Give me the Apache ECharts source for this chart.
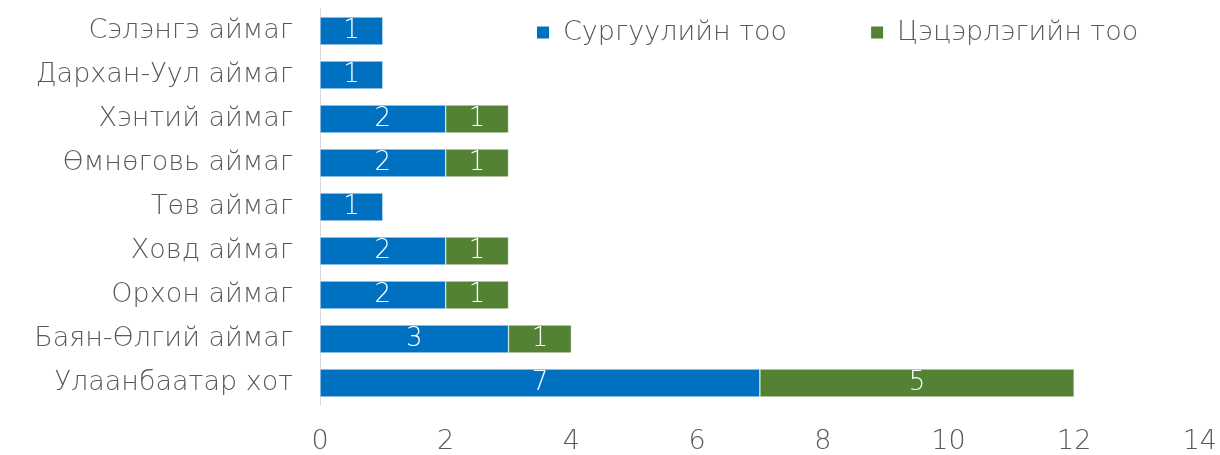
<!DOCTYPE html>
<html><head><meta charset="utf-8">
<script src="https://cdn.jsdelivr.net/npm/echarts@6/dist/echarts.min.js"></script>
<style>html,body{margin:0;padding:0;background:#fff}#c{width:1220px;height:455px}</style>
</head><body><div id="c"></div>
<script>
const categories = ["Улаанбаатар хот","Баян-Өлгий аймаг","Орхон аймаг","Ховд аймаг","Төв аймаг","Өмнөговь аймаг","Хэнтий аймаг","Дархан-Уул аймаг","Сэлэнгэ аймаг"];
const schools = [7,3,2,2,1,2,2,1,1];
const kindergartens = [5,1,1,1,null,1,1,null,null];
const seriesNames = ["Сургуулийн тоо","Цэцэрлэгийн тоо"];
const xTicks = {min:0,max:14,interval:2};

const FONT = "'DejaVu Sans', sans-serif";
const W = 200;
const FS = 27;
const chart = echarts.init(document.getElementById('c'), null, {renderer:'canvas'});
const lbl = {show:true, position:'inside', color:'#fff', fontSize:26, fontFamily:FONT, fontWeight:W};
chart.setOption({
  animation:false,
  textStyle:{fontFamily:FONT},
  legend:{
    left:530, top:14, itemWidth:14, itemHeight:14, itemGap:82,
    icon:'rect',
    textStyle:{fontSize:FS, color:'#595959', fontFamily:FONT, fontWeight:W, padding:[0,0,0,8]},
    data:seriesNames
  },
  grid:{left:320, right:20, top:9, bottom:50, containLabel:false},
  xAxis:{
    type:'value', min:xTicks.min, max:xTicks.max, interval:xTicks.interval,
    splitLine:{show:false}, axisLine:{show:false}, axisTick:{show:false},
    axisLabel:{fontSize:FS, color:'#595959', margin:23, fontFamily:FONT, fontWeight:W}
  },
  yAxis:{
    type:'category', data:categories,
    axisLine:{show:true, lineStyle:{color:'#d9d9d9', width:1}},
    axisTick:{show:false},
    axisLabel:{fontSize:FS, color:'#595959', margin:27, fontFamily:FONT, fontWeight:W}
  },
  series:[
    {name:seriesNames[0], type:'bar', stack:'a', data:schools, barWidth:28,
     itemStyle:{color:'#0070C0', borderColor:'#fff', borderWidth:0.5}, label:lbl},
    {name:seriesNames[1], type:'bar', stack:'a', data:kindergartens, barWidth:28,
     itemStyle:{color:'#548235', borderColor:'#fff', borderWidth:0.5}, label:lbl}
  ]
});
</script></body></html>
